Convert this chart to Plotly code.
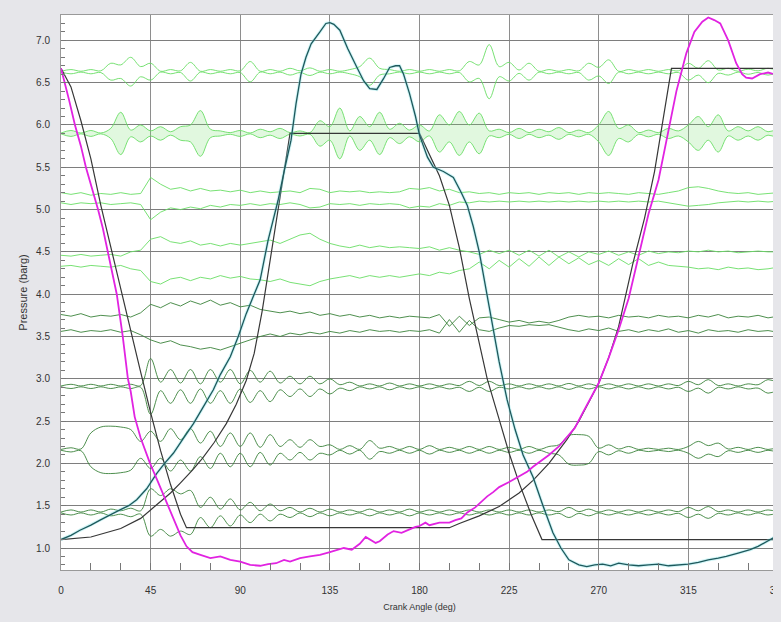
import plotly.graph_objects as go

# ---------------- data ----------------
ANGLES = list(range(0, 361, 5))  # vibration traces sampled every 5 deg

# pressure curves: (crank angle, pressure barg)
MAGENTA = [(0,6.67),(2,6.5),(4,6.3),(7,6.0),(10,5.75),(12.5,5.5),(15,5.3),(18.6,5.0),(21,4.78),(23.5,4.5),
           (26,4.22),(28,4.0),(31,3.5),(33.6,3.0),(35,2.85),(37,2.55),(40,2.3),(44.7,2.0),(48,1.82),(51,1.65),
           (55,1.42),(60,1.15),(63,1.02),(66,0.95),(70,0.92),(75,0.88),(80,0.9),(85,0.86),(90,0.84),(95,0.8),
           (100,0.79),(104,0.81),(108,0.82),(112,0.86),(115,0.84),(120,0.88),(125,0.9),(130,0.92),(135,0.95),
           (140,0.99),(142,1.0),(146,0.98),(150,1.05),(153,1.13),(155,1.1),(158,1.06),(160,1.08),(164,1.16),
           (167,1.2),(171,1.18),(175,1.22),(178,1.25),(180,1.26),(183,1.3),(185,1.27),(190,1.3),(195,1.3),
           (198,1.33),(201,1.35),(204,1.42),(208,1.48),(211,1.55),(214,1.61),(217,1.66),(220,1.72),(225,1.78),
           (230,1.85),(234,1.9),(237,1.96),(241,2.03),(245,2.1),(250,2.2),(254,2.31),(258,2.42),(262,2.6),
           (265.5,2.75),(270,2.95),(275,3.25),(280,3.58),(285,3.95),(290,4.45),(295,4.95),(300,5.35),(304,5.8),
           (309,6.4),(314,6.85),(318,7.1),(322,7.22),(325,7.27),(328,7.24),(331,7.2),(335,7.0),(339,6.73),
           (342,6.6),(344,6.56),(347,6.55),(351,6.6),(355,6.62),(358,6.6),(360,6.63)]

TEAL = [(0,1.1),(5,1.15),(9.5,1.21),(15,1.27),(19.6,1.33),(25,1.4),(29.6,1.45),(34,1.5),(38,1.57),(43,1.7),
        (48,1.88),(52,2.0),(56.4,2.12),(61,2.28),(66.5,2.47),(71,2.65),(76.5,2.87),(80,3.05),(85,3.26),(89,3.5),
        (93,3.77),(97,4.0),(100,4.17),(104,4.64),(109,5.11),(112,5.45),(115.5,5.82),(118,6.25),(120.5,6.6),
        (123,6.8),(125.6,6.96),(130,7.1),(133,7.2),(135,7.21),(137,7.19),(140,7.12),(144,6.9),(148.6,6.68),
        (152,6.52),(155,6.43),(158.6,6.42),(162,6.55),(165,6.68),(168,6.7),(170,6.7),(172,6.6),(175,6.37),
        (178,6.1),(180,5.88),(184,5.62),(187,5.5),(192,5.45),(197,5.38),(201,5.2),(204,5.05),(207,4.8),
        (210,4.5),(215,3.85),(220,3.2),(224,2.75),(228,2.4),(232,2.1),(237,1.84),(242,1.5),(247,1.18),
        (251,1.0),(255,0.86),(260,0.8),(264,0.78),(268,0.8),(272,0.81),(276,0.79),(280,0.82),(285,0.8),
        (290,0.79),(295,0.8),(300,0.81),(305,0.79),(310,0.8),(315,0.81),(320,0.83),(325,0.86),(330,0.88),
        (334,0.9),(340,0.94),(346,0.98),(350,1.02),(355,1.08),(360,1.15)]

# theoretical cycles (dark lines)
THEO_A = [(0,6.67),(5,6.45),(10,6.05),(15,5.6),(20,5.05),(25,4.55),(30,4.05),(35,3.55),(40,3.08),(45,2.6),
          (50,2.15),(55,1.75),(60,1.4),(63,1.24),(195,1.24),(200,1.29),(210,1.38),(220,1.49),(230,1.65),
          (237,1.8),(245,2.0),(254,2.28),(260,2.5),(265.6,2.75),(270,2.95),(275,3.25),(280,3.62),(287,4.35),
          (293,4.9),(298,5.45),(303,6.2),(306.5,6.67),(360,6.67)]
THEO_B = [(0,1.1),(15,1.13),(30,1.23),(40,1.35),(47,1.49),(55,1.65),(60,1.77),(66,1.92),(71,2.06),(77,2.25),
          (83,2.47),(88,2.7),(93,2.98),(97,3.3),(101,3.8),(105,4.4),(110,5.15),(115,5.9),(180,5.9),(185,5.65),
          (190,5.4),(195,5.05),(200,4.55),(205,3.95),(210,3.4),(214,3.0),(220,2.52),(225,2.12),(230,1.77),
          (236,1.4),(241.5,1.1),(360,1.1)]

# vibration traces: baseline + envelope amplitude (every 5 deg)
T1_BASE = 6.63
T1_AMP = [0.005,0.025,0.005,0.025,0.01,0.1,0.08,0.17,0.06,0.1,0.005,0.025,0.01,0.11,0.005,0.025,0.005,
          0.025,0.01,0.12,0.005,0.025,0.005,0.04,0.01,0.045,0.005,0.025,0.005,0.025,0.06,0.16,0.04,0.025,
          0.005,0.025,0.005,0.025,0.005,0.025,0.01,0.12,0.08,0.32,0.06,0.11,0.02,0.1,0.005,0.025,0.005,
          0.025,0.01,0.1,0.05,0.14,0.005,0.025,0.005,0.025,0.005,0.025,0.01,0.1,0.04,0.13,0.02,0.04,0.005,
          0.03,0.01,0.04,0.01]
T2_BASE = 5.9
T2_AMP = [0.005,0.035,0.005,0.035,0.005,0.06,0.25,0.04,0.1,0.03,0.08,0.02,0.08,0.1,0.27,0.05,0.03,0.01,
          0.035,0.005,0.05,0.02,0.06,0.01,0.03,0.01,0.15,0.08,0.3,0.03,0.2,0.08,0.25,0.05,0.12,0.04,0.1,
          0.03,0.22,0.1,0.26,0.1,0.24,0.03,0.05,0.01,0.06,0.01,0.05,0.02,0.07,0.01,0.04,0.01,0.1,0.26,0.06,
          0.1,0.01,0.04,0.01,0.06,0.03,0.1,0.2,0.08,0.22,0.03,0.08,0.03,0.08,0.02,0.06]
T3_UP = [5.2,5.18,5.2,5.17,5.19,5.18,5.2,5.18,5.19,5.38,5.3,5.24,5.26,5.22,5.25,5.22,5.23,5.21,5.23,5.2,
         5.22,5.2,5.21,5.22,5.2,5.25,5.24,5.2,5.22,5.21,5.22,5.2,5.21,5.2,5.21,5.25,5.24,5.26,5.22,5.24,
         5.2,5.21,5.19,5.2,5.18,5.2,5.19,5.2,5.18,5.2,5.19,5.2,5.18,5.2,5.19,5.2,5.19,5.18,5.2,5.19,5.18,
         5.2,5.22,5.26,5.27,5.25,5.22,5.2,5.19,5.2,5.18,5.19,5.2]
T3_LO = [5.08,5.06,5.08,5.07,5.08,5.06,5.07,5.08,5.06,4.88,4.97,5.02,5.0,5.03,5.01,5.05,5.03,5.06,5.05,
         5.07,5.05,5.07,5.06,5.08,5.06,5.02,5.03,5.07,5.06,5.07,5.05,5.07,5.06,5.07,5.06,5.02,5.04,5.03,
         5.07,5.05,5.09,5.08,5.1,5.09,5.1,5.09,5.1,5.09,5.1,5.09,5.1,5.09,5.1,5.09,5.1,5.09,5.1,5.09,5.1,
         5.09,5.1,5.08,5.06,5.04,5.05,5.06,5.08,5.09,5.1,5.09,5.1,5.09,5.1]
T4_UP = [4.46,4.45,4.47,4.45,4.46,4.47,4.45,4.5,4.52,4.65,4.68,4.62,4.6,4.63,4.58,4.6,4.57,4.6,4.58,4.6,
         4.62,4.64,4.6,4.65,4.7,4.72,4.65,4.6,4.57,4.55,4.58,4.55,4.57,4.55,4.56,4.55,4.54,4.56,4.52,4.55,
         4.52,4.5,4.47,4.52,4.48,4.52,4.46,4.52,4.45,4.52,4.44,4.5,4.44,4.5,4.47,4.51,4.46,4.5,4.46,4.51,
         4.48,4.5,4.49,4.51,4.5,4.52,4.5,4.51,4.49,4.5,4.51,4.5,4.5]
T4_LO = [4.33,4.34,4.32,4.34,4.33,4.32,4.34,4.3,4.28,4.15,4.12,4.18,4.2,4.16,4.2,4.18,4.22,4.19,4.21,
         4.18,4.17,4.15,4.18,4.14,4.12,4.1,4.15,4.18,4.2,4.22,4.19,4.22,4.2,4.22,4.2,4.22,4.24,4.22,4.26,
         4.24,4.28,4.3,4.38,4.3,4.4,4.32,4.42,4.33,4.44,4.34,4.44,4.36,4.43,4.35,4.4,4.34,4.42,4.35,4.42,
         4.34,4.38,4.34,4.33,4.32,4.3,4.31,4.29,4.32,4.3,4.31,4.29,4.3,4.32]
T5_UP = [3.76,3.74,3.77,3.73,3.75,3.74,3.76,3.73,3.78,3.88,3.84,3.9,3.86,3.92,3.88,3.93,3.87,3.9,3.85,
         3.87,3.82,3.8,3.78,3.8,3.77,3.79,3.75,3.77,3.74,3.76,3.73,3.75,3.72,3.74,3.72,3.74,3.73,3.72,
         3.76,3.62,3.74,3.63,3.72,3.73,3.7,3.67,3.69,3.66,3.68,3.66,3.69,3.73,3.75,3.73,3.74,3.72,3.75,
         3.73,3.74,3.72,3.75,3.73,3.74,3.72,3.75,3.73,3.76,3.72,3.74,3.73,3.75,3.72,3.74]
T5_LO = [3.56,3.58,3.55,3.57,3.56,3.58,3.55,3.57,3.52,3.46,3.42,3.45,3.4,3.38,3.35,3.37,3.34,3.38,3.42,
         3.46,3.5,3.53,3.5,3.54,3.52,3.55,3.53,3.56,3.54,3.57,3.55,3.58,3.56,3.57,3.55,3.57,3.56,3.58,
         3.54,3.7,3.55,3.69,3.58,3.56,3.6,3.63,3.62,3.64,3.63,3.64,3.61,3.58,3.56,3.59,3.57,3.6,3.56,3.58,
         3.55,3.58,3.56,3.59,3.55,3.57,3.54,3.58,3.56,3.57,3.55,3.58,3.56,3.57,3.55]
T6_BASE = 2.91
T6_AMP = [0.005,0.025,0.005,0.025,0.005,0.025,0.005,0.025,0.01,0.33,0.05,0.2,0.04,0.2,0.03,0.2,0.05,0.2,
          0.03,0.19,0.05,0.18,0.04,0.12,0.03,0.12,0.03,0.09,0.02,0.05,0.005,0.03,0.005,0.04,0.005,0.03,
          0.005,0.03,0.005,0.03,0.01,0.06,0.01,0.06,0.01,0.03,0.005,0.03,0.005,0.03,0.005,0.035,0.005,0.03,
          0.005,0.03,0.005,0.03,0.005,0.03,0.005,0.03,0.01,0.06,0.02,0.08,0.01,0.03,0.005,0.03,0.02,0.08,0.04]
T7_BASE = 2.16
T7_AMP = [0.005,0.025,0.01,0.2,0.27,0.28,0.27,0.24,0.1,0.22,0.1,0.25,0.12,0.25,0.08,0.22,0.04,0.2,0.04,
          0.2,0.03,0.18,0.04,0.12,0.03,0.12,0.04,0.06,0.005,0.05,0.005,0.11,0.02,0.04,0.005,0.04,0.005,0.05,
          0.005,0.03,0.005,0.04,0.005,0.04,0.005,0.03,0.005,0.04,0.005,0.04,0.06,0.17,0.18,0.16,0.02,0.06,
          0.01,0.04,0.005,0.02,0.005,0.02,0.005,0.04,0.1,0.05,0.08,0.01,0.03,0.005,0.03,0.005,0.03]
T8_BASE = 1.42
T8_AMP = [0.005,0.03,0.005,0.03,0.005,0.04,0.02,0.05,0.02,0.28,0.2,0.28,0.22,0.26,0.06,0.18,0.04,0.16,
          0.03,0.12,0.02,0.1,0.02,0.06,0.005,0.05,0.005,0.04,0.005,0.03,0.005,0.04,0.005,0.03,0.005,0.04,
          0.005,0.03,0.005,0.03,0.005,0.03,0.005,0.03,0.005,0.03,0.005,0.03,0.005,0.03,0.01,0.06,0.01,0.04,
          0.005,0.03,0.005,0.03,0.005,0.03,0.005,0.03,0.01,0.06,0.02,0.07,0.01,0.03,0.005,0.03,0.005,0.03,0.005]

X_TICKS = [0, 45, 90, 135, 180, 225, 270, 315, 360]

# ---------------- styling ----------------
LIGHT_GREEN = "rgb(105,222,100)"
DARK_GREEN = "rgb(58,130,58)"
THEO_COLOR = "rgb(55,55,55)"
TEAL_COLOR = "rgb(30,88,92)"
MAGENTA_COLOR = "rgb(225,35,225)"
PAPER = "#e6e6ea"

fig = go.Figure()


def add_line(x, y, color, width=1.0, shape="linear", **kw):
    fig.add_trace(go.Scatter(x=x, y=y, mode="lines",
                             line=dict(color=color, width=width, shape=shape),
                             hoverinfo="skip", showlegend=False, **kw))


def add_envelope(base, amp, color, fill=None):
    up = [base + a for a in amp]
    lo = [base - a for a in amp]
    add_line(ANGLES, lo, color, 0.9, shape="spline")
    if fill:
        add_line(ANGLES, up, color, 0.9, shape="spline", fill="tonexty", fillcolor=fill)
    else:
        add_line(ANGLES, up, color, 0.9, shape="spline")


add_envelope(T1_BASE, T1_AMP, LIGHT_GREEN)
add_envelope(T2_BASE, T2_AMP, LIGHT_GREEN, fill="rgba(120,225,110,0.22)")
add_line(ANGLES, T3_UP, LIGHT_GREEN, 0.9)
add_line(ANGLES, T3_LO, LIGHT_GREEN, 0.9)
add_line(ANGLES, T4_UP, LIGHT_GREEN, 0.9)
add_line(ANGLES, T4_LO, LIGHT_GREEN, 0.9)
add_line(ANGLES, T5_UP, DARK_GREEN, 0.9)
add_line(ANGLES, T5_LO, DARK_GREEN, 0.9)
add_envelope(T6_BASE, T6_AMP, DARK_GREEN)
add_envelope(T7_BASE, T7_AMP, DARK_GREEN)
add_envelope(T8_BASE, T8_AMP, DARK_GREEN)

for curve in (THEO_A, THEO_B):
    add_line([p[0] for p in curve], [p[1] for p in curve], THEO_COLOR, 1.2)

tx = [p[0] for p in TEAL]
ty = [p[1] for p in TEAL]
add_line(tx, ty, "rgba(120,225,230,0.35)", 3.2)
add_line(tx, ty, TEAL_COLOR, 1.3)

add_line([p[0] for p in MAGENTA], [p[1] for p in MAGENTA], MAGENTA_COLOR, 1.8)

FONT = "Liberation Sans, Arial, sans-serif"
axis_font = dict(family=FONT, size=10, color="#333")

# the page body has an 8px margin: size the figure so the plot area lands where the reference has it
fig.update_layout(
    width=773, height=614,
    margin=dict(l=53, r=3, t=7, b=52, autoexpand=False),
    paper_bgcolor=PAPER,
    plot_bgcolor="white",
    showlegend=False,
    font=axis_font,
    xaxis=dict(
        range=[0, 360], tickvals=X_TICKS, showgrid=True, gridcolor="#8e8e8e", gridwidth=1,
        zeroline=False, showline=True, linecolor="#999", mirror=True,
        ticks="inside", ticklen=7, tickcolor="#777", ticklabeloverflow="allow",
        minor=dict(dtick=15, tick0=0, ticks="inside", ticklen=7, tickcolor="#777", showgrid=False),
        tickfont=axis_font, ticklabelstandoff=11,
        title=dict(text="Crank Angle (deg)", font=dict(family=FONT, size=9, color="#333"), standoff=8),
    ),
    yaxis=dict(
        range=[0.74, 7.3], tick0=1.0, dtick=0.5, tickformat=".1f", showgrid=True,
        gridcolor="#7e7e7e", gridwidth=1, zeroline=False, showline=True, linecolor="#999",
        mirror=True, ticks="inside", ticklen=5, tickcolor="#777",
        minor=dict(dtick=0.1, tick0=1.0, ticks="inside", ticklen=4, tickcolor="#777", showgrid=False),
        tickfont=axis_font, ticklabelstandoff=8,
        title=dict(text="Pressure (barg)", font=dict(family=FONT, size=11, color="#333"), standoff=6),
    ),
)

fig.write_html("out.html", post_script="document.body.style.background='%s';" % PAPER)
